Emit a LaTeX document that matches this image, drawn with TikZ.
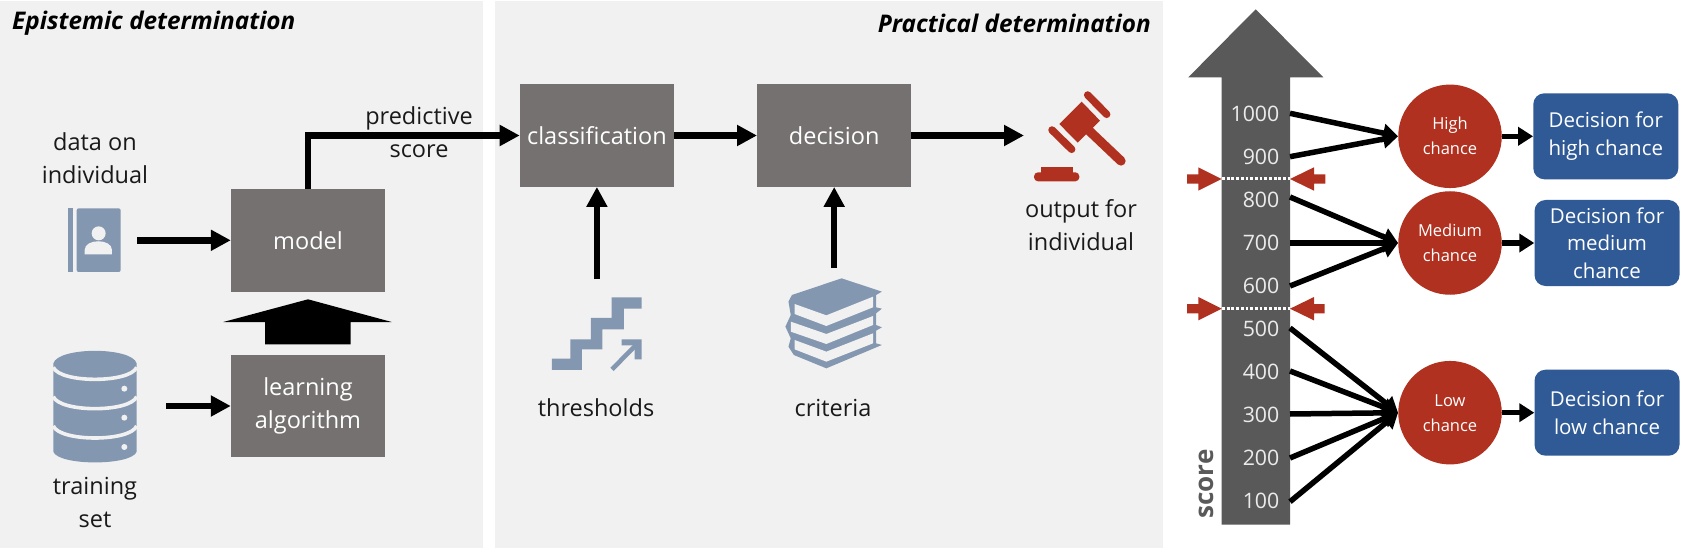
\documentclass[tikz,border=0pt]{standalone}
\usepackage{fontspec}
\setmainfont{Open Sans}
\usetikzlibrary{arrows.meta,calc}
\definecolor{panel}{HTML}{F1F1F1}
\definecolor{boxg}{HTML}{767171}
\definecolor{scoreg}{HTML}{595959}
\definecolor{icon}{HTML}{8497B0}
\definecolor{redd}{HTML}{B03120}
\definecolor{blued}{HTML}{305A96}
\tikzset{
 x=1pt,y=-1pt,
 procbox/.style={fill=boxg,draw=none,text=white,font=\fontsize{23.5}{33}\selectfont,align=center,inner sep=0pt,minimum width=154pt,minimum height=102.5pt},
 lab/.style={font=\fontsize{23.5}{33}\selectfont,align=center,inner sep=0pt,text=black!90},
 headlab/.style={font=\fontsize{24.3}{28}\selectfont\bfseries\itshape,inner sep=0pt,text=black},
 arr/.style={draw=black,line width=6.5pt,-{Triangle[length=20pt,width=20pt]}},
 fan/.style={draw=black,line width=5.5pt,-{Triangle[length=15pt,width=18pt]}},
 numlab/.style={font=\fontsize{21.3}{24}\selectfont,text=white!92!black,inner sep=0pt,anchor=east},
 chance/.style={circle,fill=redd,text=white,font=\fontsize{16.5}{25}\selectfont,align=center,inner sep=0pt,minimum size=103.5pt},
 decbox/.style={rounded corners=11pt,fill=blued,text=white,font=\fontsize{20.5}{27.7}\selectfont,align=center,inner sep=0pt,minimum width=145pt,minimum height=86pt},
 icn/.style={fill=icon,draw=none},
 cutline/.style={draw=white,line width=3pt,dash pattern=on 2.8pt off 1.9pt},
}
\begin{document}
\begin{tikzpicture}
\useasboundingbox (0,0) rectangle (1687,548);
\fill[white] (0,0) rectangle (1687,548);
% panels
\fill[panel] (0,1) rectangle (483,548);
\fill[panel] (495,1) rectangle (1163,548);
\node[headlab,anchor=west] (h1) at (12,23) {Epistemic determination};
\node[headlab,anchor=east] (h2) at (1151,23) {Practical determination};
% process boxes
\node[procbox] (model) at (308,240.3) {model};
\node[procbox] (learn) at (308,406) {learning\\algorithm};
\node[procbox] (class) at (596.9,135.5) {classification};
\node[procbox] (dec) at (834.2,135.5) {decision};
% labels
\node[lab] (data) at (95,158) {data on\\individual};
\node[lab] (train) at (95,502) {training\\set};
\node[lab] (pred) at (419,132) {predictive\\score};
\node[lab] (thr) at (596,408) {thresholds};
\node[lab] (crit) at (833,408) {criteria};
\node[lab] (out) at (1081,225) {output for\\individual};
% connector free ends
\coordinate (dataicon) at (137,240.3);
\coordinate (trainicon) at (166,406);
\coordinate (thricon) at (596.9,279);
\coordinate (criticon) at (834.2,268);
\coordinate (gavel) at (1024,135.5);
% connectors, left
\draw[arr] (dataicon) -- (model.west);
\draw[arr] (trainicon) -- (learn.west);
\draw[arr] (model.north) |- (class.west);
\draw[arr] (class.east) -- (dec.west);
\draw[arr] (dec.east) -- (gavel);
\draw[arr] (thricon) -- (class.south);
\draw[arr] (criticon) -- (dec.south);
% big block arrow learn -> model
\fill[black] (265,344.3) -- (265,322) -- (223.3,322) -- (308,299.3) -- (391.7,322) -- (350.7,322) -- (350.7,344.3) -- cycle;
% contact book icon
\begin{scope}[shift={(0,170)},scale=.33333]
\fill[icn] (204,115) rectangle (220,306);
\fill[icn,rounded corners=2pt] (230,115) rectangle (362,306);
\fill[panel] (296,190) circle (21);
\fill[panel] (254,253) -- (254,240) .. controls (254,205) and (336,205) .. (336,240) -- (336,253) -- cycle;
\end{scope}
% database icon
\begin{scope}[shift={(0,170)},scale=.33333]
\fill[icn] (160,580) -- (160,845) .. controls (175,888) and (395,888) .. (410,845) -- (410,580) .. controls (395,530) and (175,530) .. (160,580) -- cycle;
\foreach \yy in {592,680,768}{
 \draw[panel,line width=3.6pt] (160,\yy) .. controls (180,\yy+48) and (390,\yy+48) .. (410,\yy);
}
\fill[panel] (373,656) circle (9);
\fill[panel] (373,743) circle (9);
\fill[panel] (373,831) circle (9);
\end{scope}
% stairs icon
\begin{scope}[shift={(480,60)},xscale=.3827,yscale=.33333]
\fill[icn] (188,930) -- (188,896) -- (236,896) -- (236,838) -- (290,838) -- (290,774) -- (344,774) -- (344,712) -- (422,712) -- (422,746) -- (376,746) -- (376,808) -- (320,808) -- (320,868) -- (266,868) -- (266,930) -- cycle;
\fill[icn] (370,838) -- (422,838) -- (422,898) -- (404,898) -- (404,856) -- (370,856) -- cycle;
\draw[icon,line width=4.6pt] (345,928) -- (412,850);
\end{scope}
% books icon
\begin{scope}[shift={(480,60)},xscale=.3827,yscale=.33333]
\fill[icn] (945,655) -- (1050,695) -- (1035,705) -- (1035,742) -- (1050,746) -- (1035,760) -- (1035,795) -- (1050,802) -- (1035,812) -- (1035,850) -- (1050,855) -- (905,925) -- (820,885) -- (806,860) -- (812,835) -- (798,800) -- (812,765) -- (806,725) -- (815,705) -- cycle;
\fill[panel] (822,732) -- (905,766) -- (1027,710) -- (1027,742) -- (905,798) -- (822,762) -- cycle;
\fill[panel] (812,785) -- (905,822) -- (1027,768) -- (1027,795) -- (905,852) -- (812,815) -- cycle;
\fill[panel] (822,840) -- (905,875) -- (1027,820) -- (1027,850) -- (905,905) -- (822,868) -- cycle;
\end{scope}
% gavel icon
\begin{scope}[shift={(1020,80)},scale=.33333]
\fill[redd] (118,132) -- (185,65) -- (240,122) -- (173,188) -- cycle;
\draw[redd,line width=9.3pt,line cap=round] (205,150) -- (303,243);
\draw[redd,line width=7.5pt,line cap=round] (203,45) -- (260,103);
\draw[redd,line width=7.5pt,line cap=round] (96,150) -- (155,208);
\fill[redd,rounded corners=4pt] (42,277) rectangle (178,304);
\fill[redd] (62,262) rectangle (158,280);
\end{scope}
% score arrow
\fill[scoreg] (1221.7,524.6) -- (1221.7,77.3) -- (1188.3,77.3) -- (1255.7,9.3) -- (1323.3,77.3) -- (1290,77.3) -- (1290,524.6) -- cycle;
\node[font=\fontsize{26}{28}\selectfont\bfseries,text=scoreg,rotate=90,inner sep=0pt] (scorelab) at (1206,484) {score};
\foreach \v/\yy in {1000/114,900/156.7,800/200,700/242.7,600/285.7,500/329,400/372,300/415.3,200/458.3,100/500.7}{
 \node[numlab] (n\v) at (1279.5,\yy) {\v};
}
% cut lines
\draw[cutline] (1222,179) -- (1290,179);
\draw[cutline] (1222,308.7) -- (1290,308.7);
\foreach \yy/\e in {179/1325.3,308.7/1324.7}{
 \fill[redd] (1187,\yy-4.7) -- (1198.3,\yy-4.7) -- (1198.3,\yy-11.7) -- (1221.7,\yy) -- (1198.3,\yy+11.7) -- (1198.3,\yy+4.7) -- (1187,\yy+4.7) -- cycle;
 \fill[redd] (\e,\yy-4.7) -- (1314,\yy-4.7) -- (1314,\yy-11.7) -- (1290,\yy) -- (1314,\yy+11.7) -- (1314,\yy+4.7) -- (\e,\yy+4.7) -- cycle;
}
% chance circles
\node[chance] (high) at (1450,136.3) {High\\chance};
\node[chance] (med) at (1450,243) {Medium\\chance};
\node[chance] (low) at (1450,412.7) {Low\\chance};
% decision boxes
\node[decbox] (dhigh) at (1605.8,136.3) {Decision for\\high chance};
\node[decbox] (dmed) at (1607,243) {Decision for\\medium\\chance};
\node[decbox] (dlow) at (1607,412.7) {Decision for\\low chance};
% fan connectors
\foreach \v/\yy/\t in {1000/113.3/high,900/156.7/high,800/197/med,700/243/med,600/286/med,500/328/low,400/371/low,300/414/low,200/458/low,100/501.7/low}{
 \coordinate (s\v) at (1290,\yy);
 \draw[fan] (s\v) -- (\t.west);
}
\draw[fan] (high.east) -- (dhigh.west);
\draw[fan] (med.east) -- (dmed.west);
\draw[fan] (low.east) -- (dlow.west);
\end{tikzpicture}
\end{document}
